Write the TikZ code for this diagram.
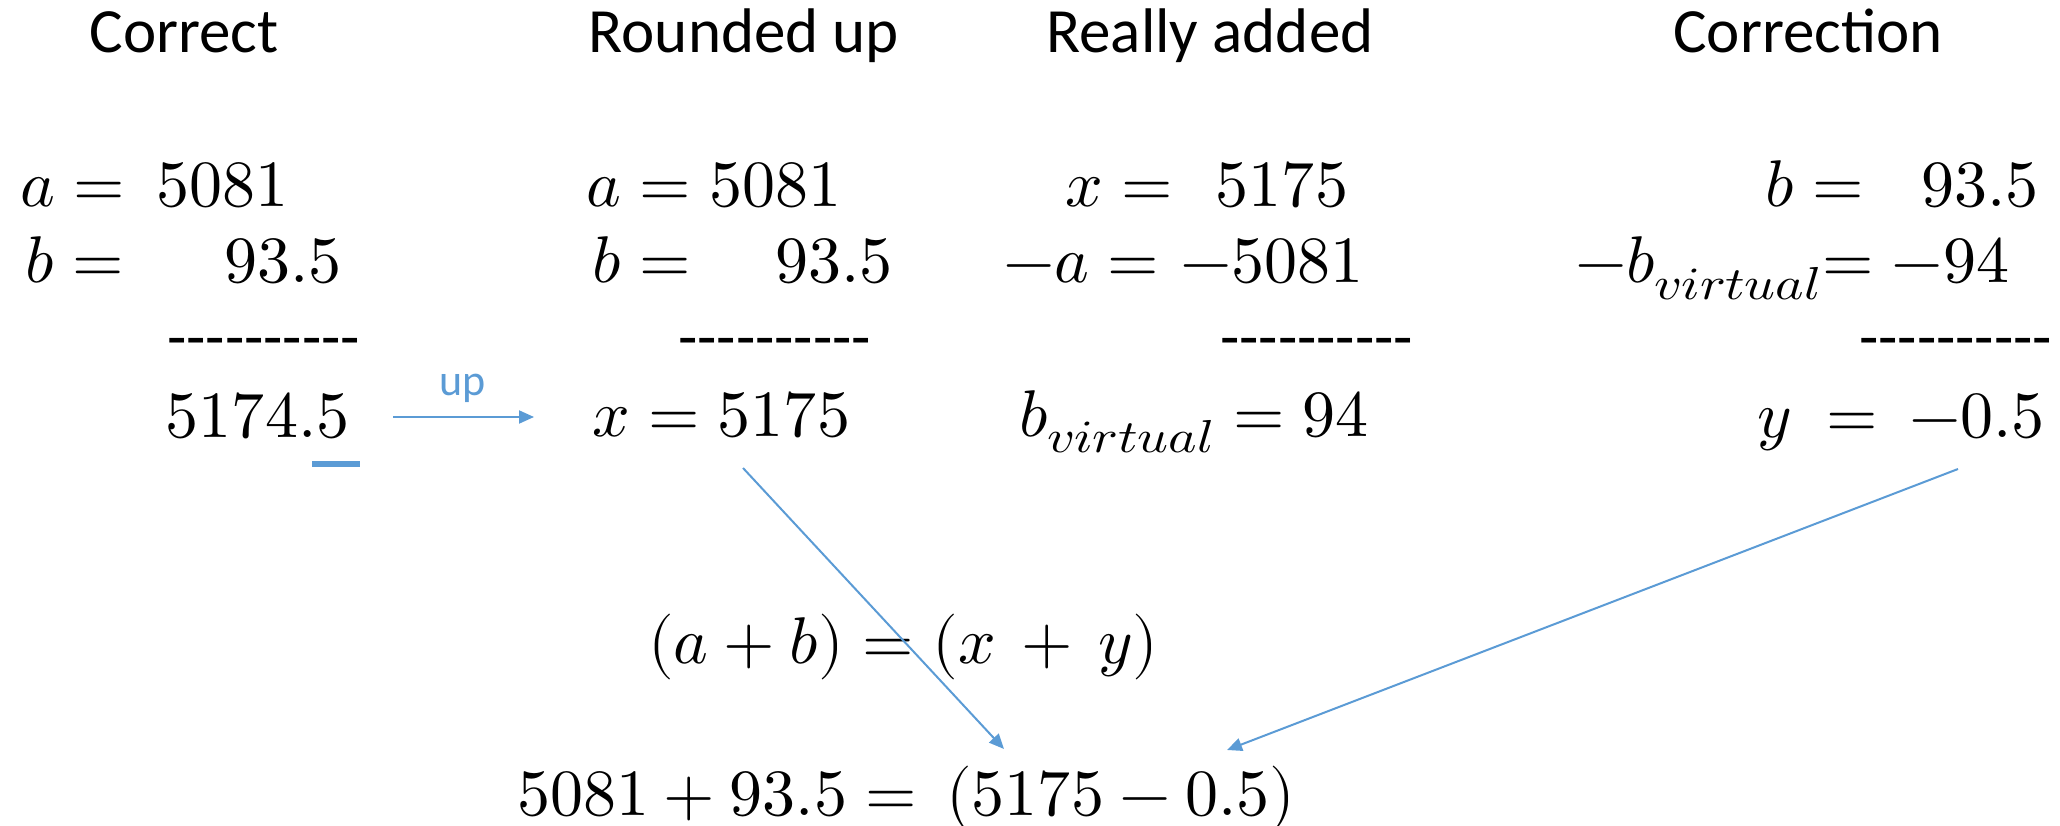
\documentclass[tikz,border=0pt]{standalone}
\usepackage{fontspec}
\usepackage{unicode-math}
\setmathfont{Latin Modern Math}
\usetikzlibrary{arrows.meta}
\newfontfamily\hdfont{Carlito}
\definecolor{lineblue}{HTML}{5B9BD5}
\newcommand\hy{\mbox{-}}
\newcommand\dashrow{\hy\hy\hy\hy\hy\hy\hy\hy\hy\hy}
\newcommand\virt{\scalebox{1.17}[1]{$\scriptstyle virtual$}}
\tikzset{
  heading/.style={anchor=base, inner sep=0pt, font=\hdfont\fontsize{63}{70}\selectfont},
  mathw/.style={anchor=base west, inner sep=0pt, font=\fontsize{66}{72}\selectfont},
  mathe/.style={anchor=base east, inner sep=0pt, font=\fontsize{66}{72}\selectfont},
  dashes/.style={anchor=base west, inner sep=0pt, font=\hdfont\fontsize{63}{70}\selectfont},
  bluearrow/.style={draw=lineblue, line width=2pt, -{Triangle[length=15pt,width=13pt]}},
  uplabel/.style={anchor=base, inner sep=0pt, text=lineblue, font=\hdfont\fontsize{44}{50}\selectfont}
}
\begin{document}
\begin{tikzpicture}[x=1pt,y=-1pt]
\useasboundingbox (0,0) rectangle (2060,826);
% headings
\node[heading] (h1) at (184,53) {Correct};
\node[heading] (h2) at (744,53) {Rounded up};
\node[heading] (h3) at (1210,53) {Really added};
\node[heading] (h4) at (1808,53) {Correction};
% column 1
\node[mathw] (c1a) at (20,207) {$a =$};
\node[mathe] (c1av) at (289,207) {$5081$};
\node[mathw] (c1b) at (25,283) {$b =$};
\node[mathe] (c1bv) at (342,283) {$93.5$};
\node[dashes] (c1d) at (167,358) {\dashrow};
\node[mathe] (c1s) at (350,437) {$5174.5$};
\draw[lineblue, line width=6pt] (312,464) -- (360,464);
% column 2
\node[mathw] (c2a) at (586,207) {$a = 5081$};
\node[mathw] (c2b) at (592,283) {$b =$};
\node[mathe] (c2bv) at (893,283) {$93.5$};
\node[dashes] (c2d) at (678,358) {\dashrow};
\node[mathw] (c2x) at (592,436) {$x = 5175$};
% up arrow
\coordinate (upS) at (393,417);
\coordinate (upE) at (534,417);
\draw[bluearrow] (upS) -- (upE);
\node[uplabel] (up) at (463,395) {up};
% column 3
\node[mathw] (c3x) at (1065,207) {$x =$};
\node[mathe] (c3xv) at (1349,207) {$5175$};
\node[mathw] (c3a) at (1003,283) {$-a =$};
\node[mathe] (c3av) at (1364,283) {$-5081$};
\node[dashes] (c3d) at (1220,358) {\dashrow};
\node[mathw] (c3b) at (1019,436) {$b_{\virt}$};
\node[mathe] (c3bv) at (1369,436) {$= 94$};
% column 4
\node[mathw] (c4b) at (1765,207) {$b =$};
\node[mathe] (c4bv) at (2039,207) {$93.5$};
\node[mathw] (c4v) at (1575,283) {$-b_{\virt}$};
\node[mathw] (c4vv) at (1822,283) {$= -94$};
\node[dashes] (c4d) at (1859,358) {\dashrow};
\node[mathw] (c4y) at (1757,437) {$y$};
\node[mathw] (c4eq) at (1826,437) {$=$};
\node[mathe] (c4yv) at (2045,437) {$-0.5$};
% bottom equations
\node[mathw] (eq1) at (648,663) {$(a+b) = (x\,+\,y)$};
\node[mathw] (eq2) at (517,815) {$5081+93.5 =\,(5175-0.5)$};
% connectors
\coordinate (a1s) at (743,468);
\coordinate (a1e) at (1004,749);
\coordinate (a2s) at (1958,469);
\coordinate (a2e) at (1227,750);
\draw[bluearrow] (a1s) -- (a1e);
\draw[bluearrow] (a2s) -- (a2e);
\end{tikzpicture}
\end{document}
